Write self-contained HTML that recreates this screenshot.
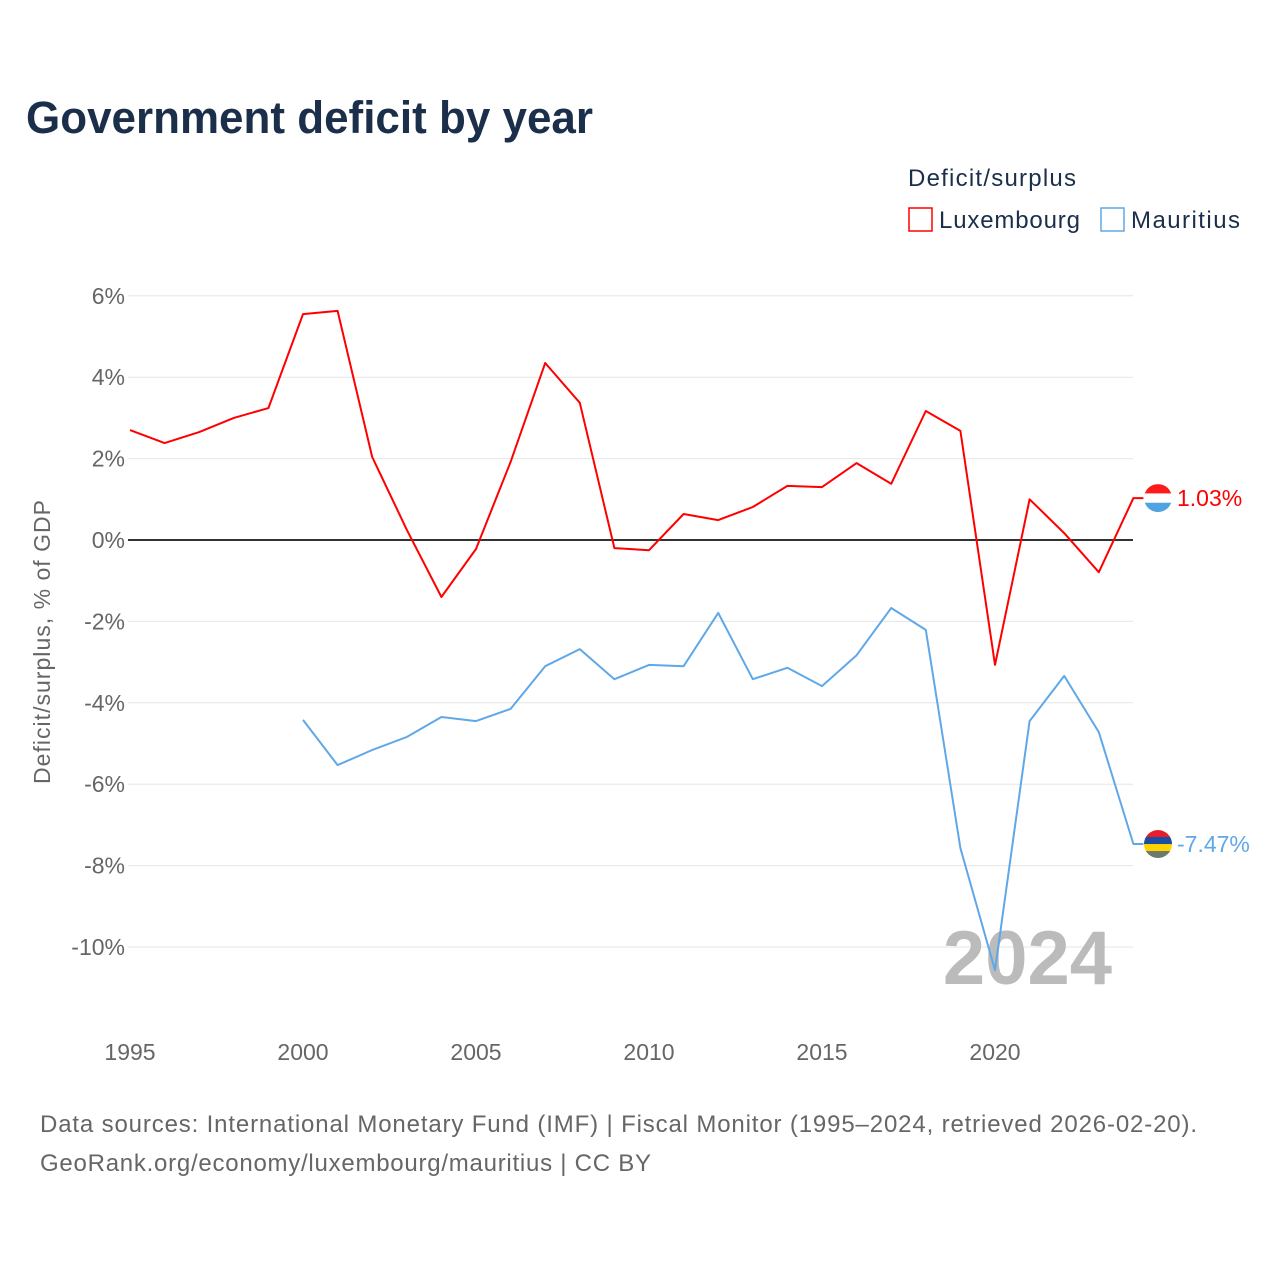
<!DOCTYPE html>
<html><head><meta charset="utf-8"><style>
body{margin:0;background:#fff;font-family:"Liberation Sans",sans-serif}
svg text{font-family:"Liberation Sans",sans-serif}
</style></head><body>
<svg id="chart" width="1280" height="1280" viewBox="0 0 1280 1280" xmlns="http://www.w3.org/2000/svg">
<rect width="1280" height="1280" fill="#fff"/>
<text x="26" y="133" font-size="45" font-weight="bold" fill="#1b2f4b" textLength="567" lengthAdjust="spacingAndGlyphs">Government deficit by year</text>
<text x="908" y="186" font-size="24" fill="#1b2f4b" textLength="168">Deficit/surplus</text>
<g><rect x="909" y="208" width="23" height="23" fill="none" stroke="#ff0000" stroke-width="1.5"/><text x="939" y="228" font-size="24" fill="#1b2f4b" textLength="141">Luxembourg</text></g>
<g><rect x="1101" y="208" width="23" height="23" fill="none" stroke="#5fa8e8" stroke-width="1.5"/><text x="1131" y="228" font-size="24" fill="#1b2f4b" textLength="109">Mauritius</text></g>
<g id="grid"></g><g id="yticks"></g><g id="xticks"></g>
<text x="1112" y="984" text-anchor="end" font-size="76" font-weight="bold" fill="#bbbbbb">2024</text>
<g id="series"></g>
<text transform="translate(50,642) rotate(-90)" text-anchor="middle" font-size="23" fill="#666" textLength="284">Deficit/surplus, % of GDP</text>
<text x="40" y="1132" font-size="24" fill="#666" textLength="1157">Data sources: International Monetary Fund (IMF) | Fiscal Monitor (1995–2024, retrieved 2026-02-20).</text>
<text x="40" y="1171" font-size="24" fill="#666" textLength="611">GeoRank.org/economy/luxembourg/mauritius | CC BY</text>
</svg>
<script>
const years=[1995,1996,1997,1998,1999,2000,2001,2002,2003,2004,2005,2006,2007,2008,2009,2010,2011,2012,2013,2014,2015,2016,2017,2018,2019,2020,2021,2022,2023,2024];
const luxembourg=[2.70,2.38,2.65,3.0,3.24,5.55,5.63,2.04,0.25,-1.4,-0.22,1.92,4.35,3.37,-0.2,-0.25,0.64,0.49,0.81,1.33,1.30,1.89,1.38,3.17,2.68,-3.07,1.0,0.17,-0.79,1.03];
const mauritius=[null,null,null,null,null,-4.42,-5.53,-5.16,-4.84,-4.35,-4.45,-4.15,-3.10,-2.68,-3.42,-3.07,-3.10,-1.79,-3.42,-3.14,-3.59,-2.83,-1.67,-2.21,-7.57,-10.57,-4.45,-3.34,-4.72,-7.47];
const yTickVals=[6,4,2,0,-2,-4,-6,-8,-10];
const xTickVals=[1995,2000,2005,2010,2015,2020];
const NS="http://www.w3.org/2000/svg";
const X=y=>130+(y-1995)*34.6;
const Y=v=>540-v*40.7;
function mk(tag,attrs,parent){const e=document.createElementNS(NS,tag);for(const k in attrs)e.setAttribute(k,attrs[k]);document.getElementById(parent).appendChild(e);return e;}
yTickVals.forEach(v=>{
 const l=mk('line',{x1:128,x2:1133,y1:Y(v),y2:Y(v),stroke:v===0?'#333':'#e6e6e6','stroke-width':v===0?2:1},'grid');
 
 
 const t=mk('text',{x:125,y:Y(v)+8,'text-anchor':'end','font-size':23,fill:'#666'},'yticks');
 t.textContent=v+'%';
 
 
});
xTickVals.forEach(v=>{
 const t=mk('text',{x:X(v),y:1060,'text-anchor':'middle','font-size':23,fill:'#666'},'xticks');
 t.textContent=v;
 
 
});
function line(vals,color,name){
 let d='';let last=null;
 vals.forEach((v,i)=>{if(v===null)return;d+=(d?'L':'M')+X(years[i]).toFixed(1)+','+Y(v).toFixed(1);last=v;});
 d+='L'+(X(2024)+10)+','+Y(last).toFixed(1);
 const p=mk('path',{d:d,fill:'none',stroke:color,'stroke-width':2,'stroke-linejoin':'round'},'series');
 
 
 return last;
}
const lv=line(luxembourg,'#ff0000','luxembourg');
const mv=line(mauritius,'#5fa8e8','mauritius');
function flag(v,colors,name,label,color){
 const cy=Y(v),cx=1158,r=14;
 const g=mk('g',{},'series');
 
 
 const id='clip'+name;
 const cp=document.createElementNS(NS,'clipPath');cp.setAttribute('id',id);
 const c=document.createElementNS(NS,'circle');c.setAttribute('cx',cx);c.setAttribute('cy',cy);c.setAttribute('r',r);cp.appendChild(c);g.appendChild(cp);
 const h=2*r/colors.length;
 colors.forEach((col,i)=>{const rr=document.createElementNS(NS,'rect');rr.setAttribute('x',cx-r);rr.setAttribute('y',cy-r+i*h);rr.setAttribute('width',2*r);rr.setAttribute('height',h+0.5);rr.setAttribute('fill',col);rr.setAttribute('clip-path','url(#'+id+')');g.appendChild(rr);});
 const t=mk('text',{x:1177,y:cy+8,'font-size':23,fill:color},'series');
 t.textContent=label;
 
 
}
flag(lv,['#ff1a1a','#ffffff','#4fa3e0'],'luxembourg',lv.toFixed(2)+'%','#ff0000');
flag(mv,['#ea1c2c','#1a4ea0','#ffd200','#6b7a6b'],'mauritius',mv.toFixed(2)+'%','#5fa8e8');
</script>
</body></html>
